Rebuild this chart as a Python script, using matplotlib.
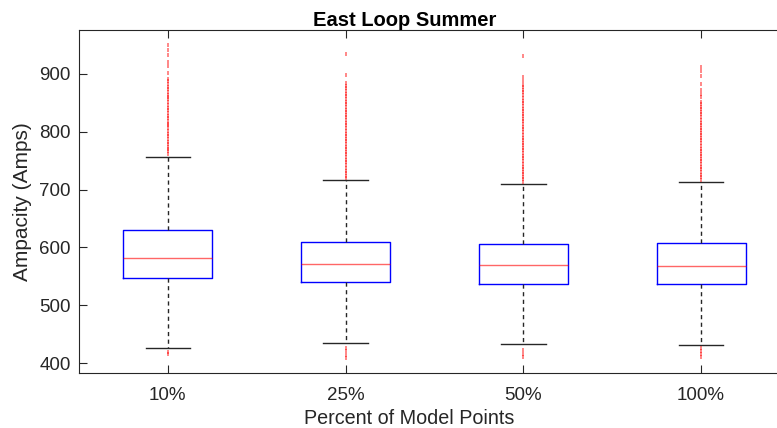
import matplotlib.pyplot as plt
import numpy as np

plt.rcParams['font.family'] = ['Liberation Sans', 'DejaVu Sans']

labels = ['10%', '25%', '50%', '100%']

# box statistics read per group
whis_hi = [757, 717, 710, 714]
q3 = [630, 610, 606, 607]
median = [582, 571, 569, 568]
q1 = [547, 540, 537, 537]
whis_lo = [427, 435, 433, 432]

# outlying samples for each group
fliers = [
    [416, 419, 761, 766, 771, 774, 779, 783, 788, 792, 797, 801, 806, 811, 814,
     819, 823, 828, 833, 837, 842, 846, 851, 856, 860, 864, 869, 874, 878, 882,
     887, 891, 901, 913, 920, 933, 942, 950],
    [409, 414, 421, 427, 720, 724, 729, 733, 738, 743, 747, 752, 756, 761, 765,
     770, 774, 779, 784, 788, 793, 797, 802, 806, 811, 815, 820, 825, 829, 834,
     838, 843, 848, 852, 857, 862, 866, 871, 875, 880, 884, 899, 934],
    [410, 416, 423, 713, 718, 722, 727, 731, 736, 740, 745, 749, 754, 759, 763,
     768, 772, 777, 781, 786, 790, 795, 800, 804, 809, 813, 818, 822, 827, 831,
     836, 840, 845, 850, 854, 859, 863, 868, 872, 877, 881, 887, 895, 931],
    [411, 416, 421, 426, 717, 722, 726, 731, 735, 740, 744, 749, 753, 758, 762,
     767, 771, 776, 780, 785, 789, 794, 798, 803, 807, 812, 816, 821, 825, 830,
     834, 839, 843, 848, 852, 861, 866, 873, 883, 897, 905, 912],
]

stats = []
for i in range(len(labels)):
    stats.append(dict(label=labels[i], med=median[i], q1=q1[i], q3=q3[i],
                      whislo=whis_lo[i], whishi=whis_hi[i],
                      fliers=np.array(fliers[i])))

fig = plt.figure(figsize=(7.77, 4.28), dpi=100)
ax = fig.add_axes([79/777, 1-373/428, 711/777, 343/428])

ax.bxp(stats, positions=[1, 2, 3, 4], widths=0.5, showfliers=True,
       boxprops=dict(color='#0000ff', lw=1.0),
       medianprops=dict(color='#ff0000', lw=1.0, alpha=0.6),
       whiskerprops=dict(color='#262626', lw=1.0, ls=(0, (3, 2.5))),
       capprops=dict(color='#262626', lw=1.0),
       capwidths=0.25,
       flierprops=dict(marker='|', color='#ff0000', markeredgecolor='#ff0000',
                       markersize=3.2, markeredgewidth=1.2, alpha=0.55))

ax.set_xlim(0.5, 4.5)
ax.set_ylim(383, 976)
ax.set_yticks([400, 500, 600, 700, 800, 900])

for s in ax.spines.values():
    s.set_color('#262626')
    s.set_linewidth(0.8)
ax.tick_params(axis='both', direction='in', length=6, width=0.8,
               colors='#262626', labelsize=13.5, top=True, right=True)
ax.tick_params(axis='x', pad=10)
ax.tick_params(axis='y', pad=6)

ax.set_title('East Loop Summer', fontsize=14.5, fontweight='bold', x=0.4585, pad=3)
ax.set_xlabel('Percent of Model Points', fontsize=14.2, color='#262626')
ax.set_ylabel('Ampacity (Amps)', fontsize=15, color='#262626')
ax.xaxis.set_label_coords(0.465, -0.104)
ax.yaxis.set_label_coords(-0.066, 0.5)

fig.savefig('out.png', dpi=100)
